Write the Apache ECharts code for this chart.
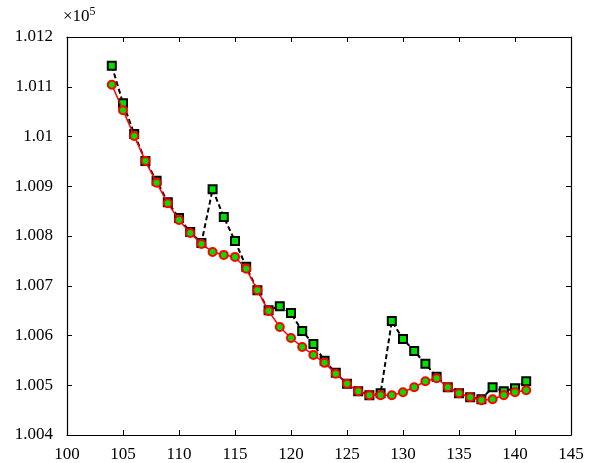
<!DOCTYPE html>
<html>
<head>
<meta charset="utf-8">
<script src="https://cdn.jsdelivr.net/npm/echarts@6/dist/echarts.min.js"></script>
<style>
  html, body { margin: 0; padding: 0; background: #fff; }
  #main { width: 592px; height: 463px; }
</style>
</head>
<body>
<div id="main"></div>
<script>
// x positions (shared by both series)
var xs = [104,105,106,107,108,109,110,111,112,113,114,115,116,117,118,119,120,121,122,123,
          124,125,126,127,128,129,130,131,132,133,134,135,136,137,138,139,140,141];

// black dashed series, green squares (x1e5)
var squareVals = [1.01142,1.01067,1.01005,1.00951,1.00911,1.00868,1.00836,1.00808,1.00786,1.00894,
                  1.00838,1.00790,1.00738,1.00691,1.00651,1.00659,1.00645,1.00609,1.00583,1.00549,
                  1.00525,1.00503,1.00488,1.00480,1.00484,1.00629,1.00593,1.00569,1.00543,1.00517,
                  1.00496,1.00484,1.00476,1.00472,1.00496,1.00488,1.00494,1.00508];

// red series, green circles (x1e5)
var circleVals = [1.01104,1.01053,1.01001,1.00951,1.00907,1.00866,1.00832,1.00806,1.00784,1.00768,
                  1.00762,1.00758,1.00734,1.00691,1.00649,1.00617,1.00595,1.00577,1.00561,1.00545,
                  1.00523,1.00503,1.00488,1.00480,1.00480,1.00480,1.00486,1.00496,1.00508,1.00514,
                  1.00496,1.00484,1.00476,1.00470,1.00472,1.00480,1.00486,1.00490];

function pairs(vals) {
  return xs.map(function (x, i) { return [x, vals[i]]; });
}

var font = '"Liberation Serif", "Times New Roman", serif';
var chart = echarts.init(document.getElementById('main'));

var axisLine = { show: true, lineStyle: { color: '#000', width: 1.2 } };
var ticks = { show: true, inside: true, length: 5, lineStyle: { color: '#000' } };

chart.setOption({
  animation: false,
  grid: { left: 67, right: 21, top: 37, bottom: 28 },
  graphic: [{
    type: 'text', left: 63, top: 6,
    style: {
      rich: {
        a: { fontFamily: font, fontSize: 17, fill: '#000' },
        s: { fontFamily: font, fontSize: 12, fill: '#000', verticalAlign: 'top', padding: [0, 0, 9, 0] }
      },
      text: '{a|×10}{s|5}'
    }
  }],
  xAxis: [{
    type: 'value', min: 100, max: 145, interval: 5,
    axisLine: axisLine, axisTick: ticks, splitLine: { show: false },
    axisLabel: { color: '#000', fontFamily: font, fontSize: 17, margin: 11 }
  }, {
    type: 'value', min: 100, max: 145, interval: 5, position: 'top',
    axisLine: axisLine, axisTick: ticks, splitLine: { show: false },
    axisLabel: { show: false }
  }],
  yAxis: [{
    type: 'value', min: 1.004, max: 1.012, interval: 0.001,
    axisLine: axisLine, axisTick: ticks, splitLine: { show: false },
    axisLabel: {
      color: '#000', fontFamily: font, fontSize: 17, margin: 14,
      formatter: function (v) { return String(parseFloat(v.toFixed(3))); }
    }
  }, {
    type: 'value', min: 1.004, max: 1.012, interval: 0.001, position: 'right',
    axisLine: axisLine, axisTick: ticks, splitLine: { show: false },
    axisLabel: { show: false }
  }],
  series: [{
    type: 'line',
    data: pairs(squareVals),
    symbol: 'rect', symbolSize: 8,
    lineStyle: { color: '#000', width: 2, type: [5, 3] },
    itemStyle: { color: '#00e000', borderColor: '#000', borderWidth: 2 },
    z: 2
  }, {
    type: 'line',
    data: pairs(circleVals),
    symbol: 'circle', symbolSize: 8,
    lineStyle: { color: '#ff0000', width: 1.5 },
    itemStyle: { color: '#00e000', borderColor: '#ff0000', borderWidth: 2 },
    z: 3
  }]
});
</script>
</body>
</html>
